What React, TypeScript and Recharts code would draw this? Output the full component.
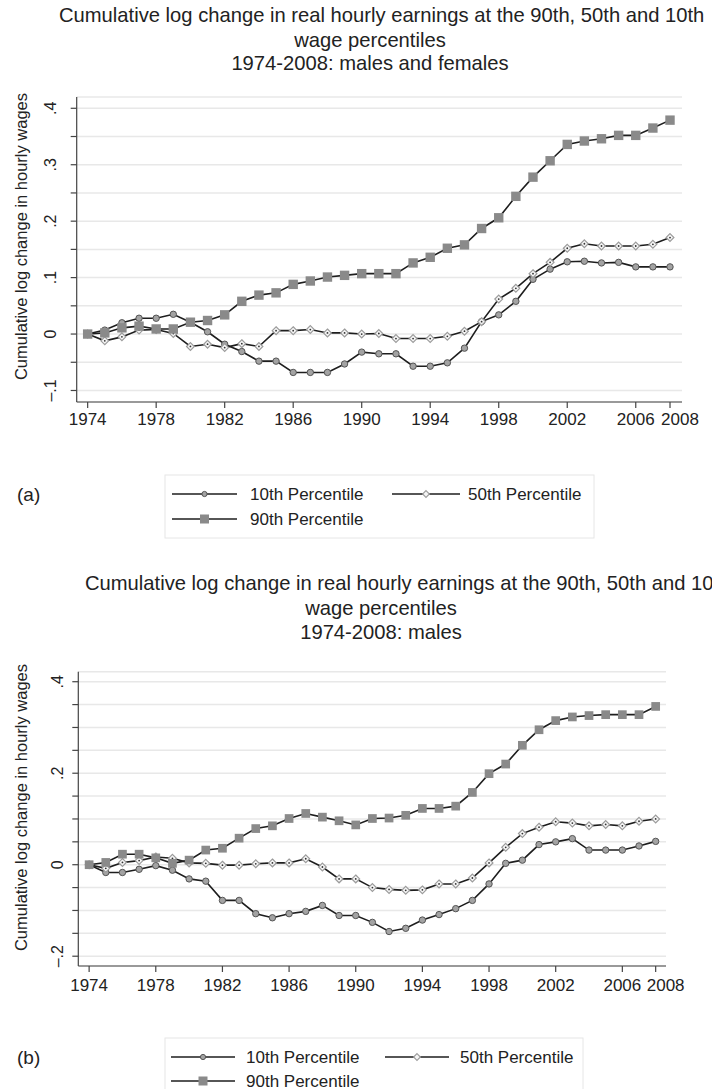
import React from "react";
import { LineChart, Line, XAxis, YAxis, CartesianGrid } from "recharts";

const YEARS = [
  1974, 1975, 1976, 1977, 1978, 1979, 1980, 1981, 1982, 1983,
  1984, 1985, 1986, 1987, 1988, 1989, 1990, 1991, 1992, 1993,
  1994, 1995, 1996, 1997, 1998, 1999, 2000, 2001, 2002, 2003,
  2004, 2005, 2006, 2007, 2008,
];

const X_TICKS = [1974, 1978, 1982, 1986, 1990, 1994, 1998, 2002, 2006, 2008];

// (a) males and females
const ALL_P10 = [
  0, 0.007, 0.02, 0.028, 0.028, 0.035, 0.021, 0.004, -0.018, -0.031,
  -0.048, -0.048, -0.068, -0.068, -0.068, -0.053, -0.032, -0.035, -0.035, -0.057,
  -0.057, -0.051, -0.025, 0.022, 0.034, 0.058, 0.097, 0.115, 0.128, 0.129,
  0.126, 0.127, 0.119, 0.119, 0.119,
];
const ALL_P50 = [
  0, -0.012, -0.005, 0.007, 0.008, 0.001, -0.022, -0.018, -0.024, -0.017,
  -0.022, 0.006, 0.006, 0.008, 0.002, 0.002, 0, 0.001, -0.008, -0.008,
  -0.008, -0.004, 0.005, 0.022, 0.062, 0.081, 0.107, 0.127, 0.152, 0.16,
  0.156, 0.156, 0.156, 0.159, 0.171,
];
const ALL_P90 = [
  0, 0.002, 0.011, 0.014, 0.009, 0.009, 0.021, 0.024, 0.034, 0.058,
  0.069, 0.073, 0.088, 0.094, 0.101, 0.104, 0.107, 0.107, 0.107, 0.126,
  0.136, 0.152, 0.158, 0.187, 0.206, 0.244, 0.278, 0.307, 0.336, 0.342,
  0.346, 0.352, 0.352, 0.365, 0.379,
];

// (b) males
const MALE_P10 = [
  0, -0.017, -0.017, -0.01, -0.002, -0.012, -0.031, -0.036, -0.078, -0.078,
  -0.107, -0.116, -0.107, -0.102, -0.089, -0.111, -0.111, -0.126, -0.146, -0.139,
  -0.121, -0.109, -0.096, -0.078, -0.042, 0.003, 0.01, 0.044, 0.05, 0.057,
  0.032, 0.032, 0.032, 0.041, 0.051,
];
const MALE_P50 = [
  0, -0.008, 0.005, 0.009, 0.017, 0.014, 0.004, 0.003, -0.001, -0.001,
  0.002, 0.004, 0.004, 0.013, -0.005, -0.031, -0.031, -0.05, -0.054, -0.056,
  -0.055, -0.042, -0.042, -0.029, 0.004, 0.038, 0.068, 0.082, 0.094, 0.091,
  0.085, 0.088, 0.085, 0.095, 0.1,
];
const MALE_P90 = [
  0, 0.005, 0.023, 0.023, 0.015, 0.003, 0.01, 0.032, 0.036, 0.058,
  0.079, 0.085, 0.101, 0.112, 0.104, 0.096, 0.087, 0.101, 0.102, 0.108,
  0.123, 0.123, 0.128, 0.158, 0.199, 0.22, 0.261, 0.295, 0.315, 0.323,
  0.326, 0.328, 0.328, 0.328, 0.346,
];

const ALL_Y_TICKS = [-0.1, -0.05, 0, 0.05, 0.1, 0.15, 0.2, 0.25, 0.3, 0.35, 0.4];
const MALE_Y_TICKS = [-0.2, -0.15, -0.1, -0.05, 0, 0.05, 0.1, 0.15, 0.2, 0.25, 0.3, 0.35, 0.4];

const FONT = "'Liberation Sans', Arial, Helvetica, sans-serif";
const LINE_COLOR = "#1e1e1e";
const AXIS_COLOR = "#444";

function fmtTick(v: number) {
  if (Math.abs(v) < 1e-9) return "0";
  const s = Math.abs(v).toFixed(1).replace(/^0/, "");
  return v < 0 ? "\u2013" + s : s;
}

function CircleMark({ cx, cy }: { cx: number; cy: number }) {
  return <circle cx={cx} cy={cy} r={3.2} fill="#a3a3a3" stroke="#555" strokeWidth={1} />;
}

function DiamondMark({ cx, cy }: { cx: number; cy: number }) {
  const h = 3.9;
  return (
    <g>
      <path
        d={`M${cx},${cy - h} L${cx + h},${cy} L${cx},${cy + h} L${cx - h},${cy} Z`}
        fill="#f6f6f6"
        stroke="#9c9c9c"
        strokeWidth={1.2}
      />
      <circle cx={cx} cy={cy} r={0.9} fill="#333" />
    </g>
  );
}

function SquareMark({ cx, cy, size }: { cx: number; cy: number; size: number }) {
  return <rect x={cx - size / 2} y={cy - size / 2} width={size} height={size} fill="#8a8a8a" />;
}

interface ChartProps {
  p10: number[];
  p50: number[];
  p90: number[];
  yTicks: number[];
  labelStep: number;
  yDomain: [number, number];
  xDomain: [number, number];
  width: number;
  height: number;
  margin: { top: number; right: number; bottom: number; left: number };
  yAxisWidth: number;
  labelX: number;
  squareSize: number;
  tickMargin: number;
}

function PercentileChart(props: ChartProps) {
  const data = YEARS.map((year, i) => ({
    year,
    p10: props.p10[i],
    p50: props.p50[i],
    p90: props.p90[i],
  }));

  const renderYTick = (t: any) => {
    const v = t.payload.value as number;
    const k = v / props.labelStep;
    if (Math.abs(k - Math.round(k)) > 1e-6) return <g key={`t-${t.index}`} />;
    return (
      <text
        key={`t-${t.index}`}
        x={props.labelX}
        y={t.y}
        transform={`rotate(-90 ${props.labelX} ${t.y})`}
        textAnchor="middle"
        dominantBaseline="central"
        fontSize={16}
        fill="#222"
        fontFamily={FONT}
      >
        {fmtTick(v)}
      </text>
    );
  };

  // last label is pushed right a little so it clears 2006, as in the original
  const renderXTick = (t: any) => {
    const v = t.payload.value as number;
    const shift = v === 2008 ? 10 : 0;
    return (
      <text
        key={`x-${t.index}`}
        x={t.x + shift}
        y={t.y}
        dy="0.71em"
        textAnchor="middle"
        fontSize={17}
        fill="#222"
        fontFamily={FONT}
      >
        {v}
      </text>
    );
  };

  return (
    <LineChart width={props.width} height={props.height} data={data} margin={props.margin}>
      <CartesianGrid horizontal vertical={false} stroke="#e8e8e8" strokeWidth={1.5} />
      <XAxis
        dataKey="year"
        type="number"
        domain={props.xDomain}
        allowDataOverflow
        ticks={X_TICKS}
        interval={0}
        tickSize={6}
        tickMargin={props.tickMargin}
        height={30}
        axisLine={{ stroke: AXIS_COLOR, strokeWidth: 1.2 }}
        tickLine={{ stroke: AXIS_COLOR, strokeWidth: 1.2 }}
        tick={renderXTick}
      />
      <YAxis
        type="number"
        domain={props.yDomain}
        allowDataOverflow
        ticks={props.yTicks}
        interval={0}
        width={props.yAxisWidth}
        tickSize={6}
        axisLine={{ stroke: AXIS_COLOR, strokeWidth: 1.2 }}
        tickLine={{ stroke: AXIS_COLOR, strokeWidth: 1.2 }}
        tick={renderYTick}
      />
      <Line
        dataKey="p10"
        stroke={LINE_COLOR}
        strokeWidth={1.6}
        isAnimationActive={false}
        dot={(d: any) => <CircleMark key={`c-${d.index}`} cx={d.cx} cy={d.cy} />}
      />
      <Line
        dataKey="p50"
        stroke={LINE_COLOR}
        strokeWidth={1.6}
        isAnimationActive={false}
        dot={(d: any) => <DiamondMark key={`d-${d.index}`} cx={d.cx} cy={d.cy} />}
      />
      <Line
        dataKey="p90"
        stroke={LINE_COLOR}
        strokeWidth={1.6}
        isAnimationActive={false}
        dot={(d: any) => <SquareMark key={`s-${d.index}`} cx={d.cx} cy={d.cy} size={props.squareSize} />}
      />
    </LineChart>
  );
}

function LegendBlock({ box, rows, items }: {
  box: { x: number; y: number; w: number; h: number };
  rows: [number, number];
  items: { x1: number; x2: number; tx: number }[];
}) {
  const sym = (x1: number, x2: number, y: number, kind: string) => {
    const cx = (x1 + x2) / 2;
    return (
      <g>
        <line x1={x1} x2={x2} y1={y} y2={y} stroke={LINE_COLOR} strokeWidth={1.6} />
        {kind === "c" && <circle cx={cx} cy={y} r={2.6} fill="#a3a3a3" stroke="#555" strokeWidth={1} />}
        {kind === "d" && (
          <path d={`M${cx},${y - 3.4} L${cx + 3.4},${y} L${cx},${y + 3.4} L${cx - 3.4},${y} Z`} fill="#f6f6f6" stroke="#9c9c9c" strokeWidth={1.1} />
        )}
        {kind === "s" && <rect x={cx - 4.5} y={y - 4.5} width={9} height={9} fill="#8a8a8a" />}
      </g>
    );
  };
  const txt = (x: number, y: number, s: string) => (
    <text x={x} y={y} dominantBaseline="central" fontSize={17} fill="#222" fontFamily={FONT}>{s}</text>
  );
  return (
    <g>
      <rect x={box.x} y={box.y} width={box.w} height={box.h} fill="none" stroke="#e6e6e6" strokeWidth={1} />
      {sym(items[0].x1, items[0].x2, rows[0], "c")}
      {txt(items[0].tx, rows[0], "10th Percentile")}
      {sym(items[1].x1, items[1].x2, rows[0], "d")}
      {txt(items[1].tx, rows[0], "50th Percentile")}
      {sym(items[0].x1, items[0].x2, rows[1], "s")}
      {txt(items[0].tx, rows[1], "90th Percentile")}
    </g>
  );
}

export default function App() {
  const titleProps = { fontSize: 20.2, fill: "#222", fontFamily: FONT };
  return (
    <div style={{ position: "absolute", left: 0, top: 0, width: 712, height: 1089, overflow: "hidden", background: "#fff" }}>
      <svg width={712} height={1089} style={{ position: "absolute", left: 0, top: 0 }}>
        {/* panel (a) titles */}
        <text x={59} y={22} {...titleProps}>Cumulative log change in real hourly earnings at the 90th, 50th and 10th</text>
        <text x={370} y={47} textAnchor="middle" {...titleProps}>wage percentiles</text>
        <text x={370} y={70} textAnchor="middle" {...titleProps}>1974-2008: males and females</text>
        <text x={21} y={236.5} transform="rotate(-90 21 236.5)" textAnchor="middle" dominantBaseline="central" fontSize={16.5} fill="#222" fontFamily={FONT}>
          Cumulative log change in hourly wages
        </text>
        <text x={17} y={494} dominantBaseline="central" fontSize={19} fill="#222" fontFamily={FONT}>(a)</text>
        <LegendBlock
          box={{ x: 165, y: 475, w: 429, h: 63 }}
          rows={[494, 519]}
          items={[{ x1: 172, x2: 237, tx: 250 }, { x1: 392, x2: 460, tx: 468 }]}
        />

        {/* panel (b) titles */}
        <text x={85} y={590} {...titleProps}>Cumulative log change in real hourly earnings at the 90th, 50th and 10th</text>
        <text x={381} y={615} textAnchor="middle" {...titleProps}>wage percentiles</text>
        <text x={381} y={639} textAnchor="middle" {...titleProps}>1974-2008: males</text>
        <text x={21} y={807.5} transform="rotate(-90 21 807.5)" textAnchor="middle" dominantBaseline="central" fontSize={16.5} fill="#222" fontFamily={FONT}>
          Cumulative log change in hourly wages
        </text>
        <text x={17} y={1057} dominantBaseline="central" fontSize={19} fill="#222" fontFamily={FONT}>(b)</text>
        <LegendBlock
          box={{ x: 165, y: 1038, w: 418, h: 64 }}
          rows={[1057, 1081]}
          items={[{ x1: 171, x2: 235, tx: 246 }, { x1: 385, x2: 449, tx: 460 }]}
        />
      </svg>

      <div style={{ position: "absolute", left: 0, top: 0 }}>
        <PercentileChart
          p10={ALL_P10}
          p50={ALL_P50}
          p90={ALL_P90}
          yTicks={ALL_Y_TICKS}
          labelStep={0.1}
          yDomain={[-0.1204, 0.42]}
          xDomain={[1973.36, 2008.7]}
          width={712}
          height={440}
          margin={{ top: 97, right: 30, bottom: 8, left: 0 }}
          yAxisWidth={76.7}
          labelX={51}
          squareSize={9.4}
          tickMargin={5}
        />
      </div>

      <div style={{ position: "absolute", left: 0, top: 560 }}>
        <PercentileChart
          p10={MALE_P10}
          p50={MALE_P50}
          p90={MALE_P90}
          yTicks={MALE_Y_TICKS}
          labelStep={0.2}
          yDomain={[-0.2214, 0.4219]}
          xDomain={[1973.35, 2008.62]}
          width={712}
          height={460}
          margin={{ top: 111.7, right: 46, bottom: 24, left: 0 }}
          yAxisWidth={78.3}
          labelX={57.5}
          squareSize={8.7}
          tickMargin={7}
        />
      </div>
    </div>
  );
}
